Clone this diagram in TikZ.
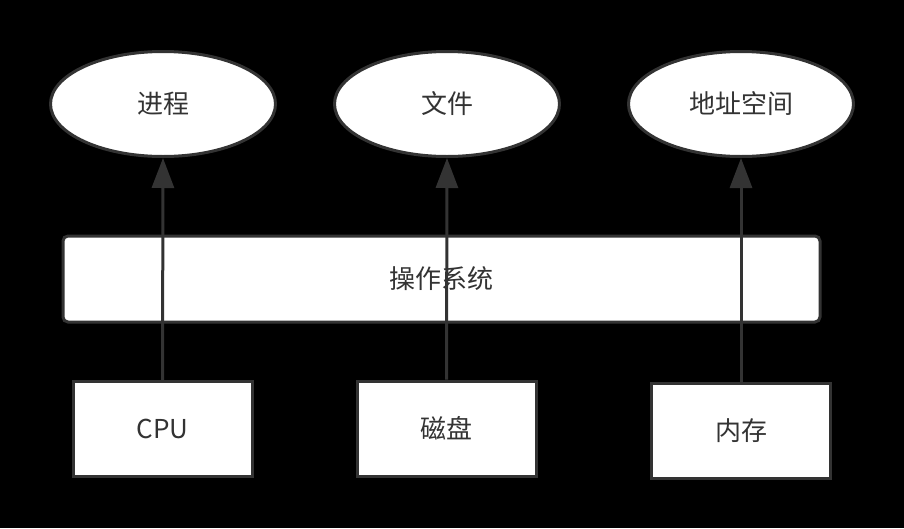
\documentclass[tikz,border=0pt]{standalone}
\usepackage{fontspec}
\setmainfont{Noto Sans CJK SC}
\usetikzlibrary{arrows.meta,shapes.geometric}
\definecolor{ln}{HTML}{333333}
\tikzset{
  every node/.style={font=\fontsize{26}{31}\selectfont, text=ln},
  ell/.style={ellipse, draw=ln, fill=white, line width=3pt, minimum width=225pt, minimum height=105pt, inner sep=0pt},
  osbox/.style={rectangle, rounded corners=5pt, draw=ln, fill=white, line width=3pt, minimum width=757pt, minimum height=86pt},
  hwbox/.style={rectangle, draw=ln, fill=white, line width=3pt, minimum width=179pt, minimum height=95pt},
  arr/.style={draw=ln, line width=3pt, -{Triangle[length=30pt, width=22pt]}},
}
\begin{document}
\begin{tikzpicture}[x=1pt,y=-1pt]
\fill[black] (0,0) rectangle (904,528);
\useasboundingbox (0,0) rectangle (904,528);
\node[ell] (p) at (163,104) {进程};
\node[ell] (f) at (447,104) {文件};
\node[ell] (a) at (741,104) {地址空间};
\node[osbox] (os) at (441.5,279) {操作系统};
\node[hwbox] (cpu) at (162.5,429) {CPU};
\node[hwbox] (disk) at (446.5,428.5) {磁盘};
\node[hwbox] (mem) at (741,430.5) {内存};
\draw[arr] (cpu.north) -- (p.south);
\draw[arr] (disk.north) -- (f.south);
\draw[arr] (mem.north) -- (a.south);
\end{tikzpicture}
\end{document}
